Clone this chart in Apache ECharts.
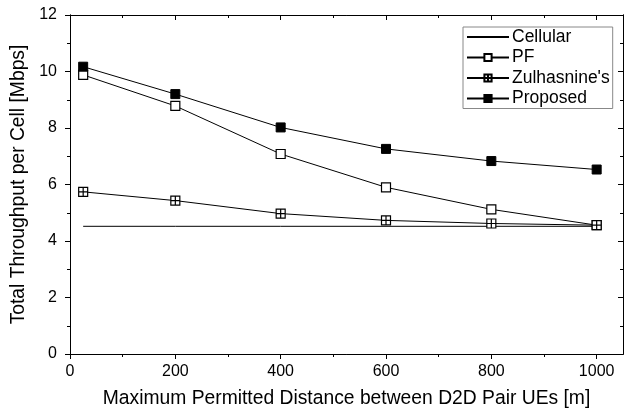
<!DOCTYPE html>
<html><head><meta charset="utf-8">
<script src="https://cdn.jsdelivr.net/npm/echarts@6/dist/echarts.min.js"></script>
<style>html,body{margin:0;padding:0;background:#fff}#c{width:632px;height:409px}</style>
</head><body><div id="c"></div>
<script>
const xValues = [25, 200, 400, 600, 800, 1000];
const cellular = [4.52, 4.52, 4.52, 4.52, 4.52, 4.52];
const pf = [9.88, 8.78, 7.08, 5.9, 5.12, 4.56];
const zulhasnine = [5.74, 5.43, 4.97, 4.73, 4.62, 4.56];
const proposed = [10.17, 9.2, 8.02, 7.26, 6.83, 6.53];
const xMajorTicks = [0, 200, 400, 600, 800, 1000];
const xMinorTicks = [100, 300, 500, 700, 900];
const yMajorTicks = [0, 2, 4, 6, 8, 10, 12];
const yMinorTicks = [1, 3, 5, 7, 9, 11];

const font = 'Arial, "Liberation Sans", sans-serif';
const pair = (ys) => xValues.map((x, i) => [x, ys[i]]);
const crossSquare = 'path://M0,0H10V10H0Z M5,0V10 M0,5H10';

function xAx(pos, ticks, len, labels, extra) {
  return Object.assign({
    type: 'value', position: pos, min: 0, max: 1050, interval: 200,
    axisLine: { show: true, onZero: false, lineStyle: { color: '#000', width: 1 } },
    axisTick: { show: true, inside: pos === 'top', length: len, customValues: ticks, lineStyle: { color: '#000' } },
    axisLabel: { show: labels, customValues: xMajorTicks, color: '#000', fontSize: 16, fontFamily: font, margin: 10,
      formatter: (v) => String(v) },
    splitLine: { show: false }
  }, extra || {});
}
function yAx(pos, ticks, len, labels, extra) {
  return Object.assign({
    type: 'value', position: pos, min: 0, max: 12, interval: 2,
    axisLine: { show: true, onZero: false, lineStyle: { color: '#000', width: 1 } },
    axisTick: { show: true, inside: pos === 'right', length: len, customValues: ticks, lineStyle: { color: '#000' } },
    axisLabel: { show: labels, customValues: yMajorTicks, color: '#000', fontSize: 16, fontFamily: font, margin: 13,
      formatter: (v) => String(v) },
    splitLine: { show: false }
  }, extra || {});
}

const chart = echarts.init(document.getElementById('c'), null, { renderer: 'canvas' });
chart.setOption({
  backgroundColor: '#fff',
  animation: false,
  grid: { left: 70, right: 9, top: 15, bottom: 55, containLabel: false, outerBoundsMode: 'none' },
  xAxis: [
    xAx('bottom', xMajorTicks, 5, true, {
      name: 'Maximum Permitted Distance between D2D Pair UEs [m]', nameLocation: 'middle', nameGap: 35,
      nameTextStyle: { color: '#000', fontSize: 19.3, fontFamily: font }
    }),
    xAx('bottom', xMinorTicks, 3, false),
    xAx('top', xMajorTicks, 5, false),
    xAx('top', xMinorTicks, 3, false)
  ],
  yAxis: [
    yAx('left', yMajorTicks, 5, true, {
      name: 'Total Throughput per Cell [Mbps]', nameLocation: 'middle', nameGap: 39,
      nameTextStyle: { color: '#000', fontSize: 19.3, fontFamily: font }
    }),
    yAx('left', yMinorTicks, 3, false),
    yAx('right', yMajorTicks, 5, false),
    yAx('right', yMinorTicks, 3, false)
  ],
  legend: {
    orient: 'vertical', left: 463, top: 27,
    padding: [1, 3, 1, 3], itemGap: 2.5, itemWidth: 42, itemHeight: 9,
    borderColor: '#888', borderWidth: 1, backgroundColor: '#fff',
    textStyle: { color: '#000', fontSize: 17.5, lineHeight: 18, fontFamily: font, padding: [0, 0, 0, -2] },
    data: [
      { name: 'Cellular', itemStyle: { opacity: 0 } },
      'PF', "Zulhasnine's", 'Proposed'
    ]
  },
  series: [
    { name: 'Cellular', type: 'line', data: pair(cellular), symbol: 'none',
      lineStyle: { color: '#000', width: 1 }, itemStyle: { color: '#000' } },
    { name: 'PF', type: 'line', data: pair(pf), symbol: 'rect', symbolSize: 9,
      lineStyle: { color: '#000', width: 1 }, itemStyle: { color: '#fff', borderColor: '#000', borderWidth: 1.2 } },
    { name: "Zulhasnine's", type: 'line', data: pair(zulhasnine), symbol: crossSquare, symbolSize: 9,
      lineStyle: { color: '#000', width: 1 }, itemStyle: { color: '#fff', borderColor: '#000', borderWidth: 1.2 } },
    { name: 'Proposed', type: 'line', data: pair(proposed), symbol: 'rect', symbolSize: 9,
      lineStyle: { color: '#000', width: 1 }, itemStyle: { color: '#000', borderColor: '#000', borderWidth: 1 } }
  ]
});
</script></body></html>
